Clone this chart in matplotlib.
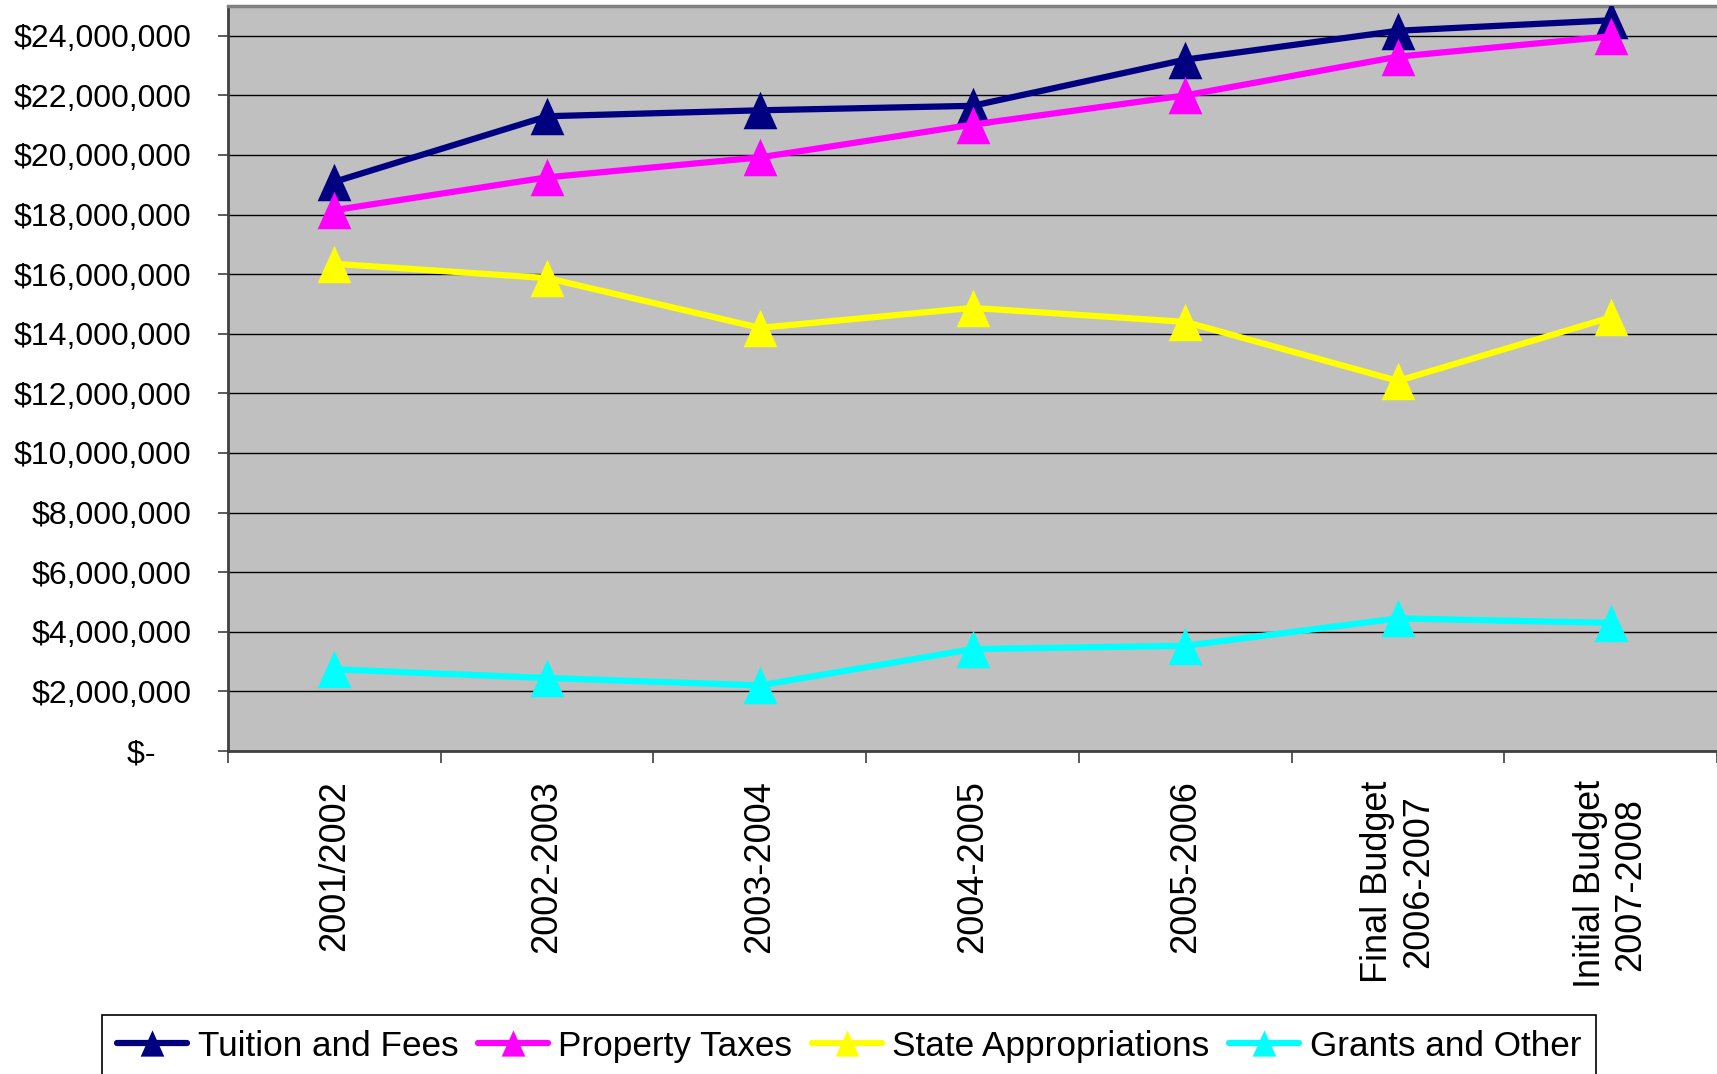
import matplotlib
matplotlib.use("Agg")
import matplotlib.pyplot as plt
import numpy as np
from matplotlib.path import Path
from matplotlib.ticker import FuncFormatter, FixedLocator

plt.rcParams['font.family'] = ['Liberation Sans', 'DejaVu Sans']

categories = ["2001/2002", "2002-2003", "2003-2004", "2004-2005", "2005-2006",
              "Final Budget\n2006-2007", "Initial Budget\n2007-2008"]
tuition = [19.1e6, 21.3e6, 21.5e6, 21.65e6, 23.2e6, 24.17e6, 24.52e6]
property_taxes = [18.15e6, 19.25e6, 19.92e6, 21.02e6, 22.0e6, 23.3e6, 23.98e6]
state_approp = [16.35e6, 15.87e6, 14.2e6, 14.87e6, 14.4e6, 12.42e6, 14.55e6]
grants = [2.74e6, 2.45e6, 2.2e6, 3.42e6, 3.53e6, 4.45e6, 4.3e6]

series = [("Tuition and Fees", tuition, "#000080"),
          ("Property Taxes", property_taxes, "#FF00FF"),
          ("State Appropriations", state_approp, "#FFFF00"),
          ("Grants and Other", grants, "#00FFFF")]

tri = Path([(0, 1), (-0.9, -1), (0.9, -1), (0, 1)],
           [Path.MOVETO, Path.LINETO, Path.LINETO, Path.CLOSEPOLY])

fig = plt.figure(figsize=(17.17, 10.74), dpi=100)
ax = fig.add_axes([228/1717, 1 - 751/1074, 1 - 228/1717, (751 - 6)/1074])
ax.set_facecolor("#C0C0C0")

x = np.arange(len(categories))
handles = []
for name, vals, col in series:
    h, = ax.plot(x, vals, color=col, lw=4.5, marker=tri, markersize=27,
                 markeredgewidth=0, markerfacecolor=col, label=name,
                 solid_capstyle='round', zorder=3)
    handles.append(h)

ax.set_xlim(-0.5, 6.5)
ax.set_ylim(0, 25e6)
ax.set_yticks(np.arange(0, 24e6 + 1, 2e6))
ax.yaxis.set_major_formatter(FuncFormatter(
    lambda v, p: "$-    " if v == 0 else f"${v:,.0f}"))
ax.grid(axis='y', color='black', lw=1.0, zorder=1)
ax.set_axisbelow(True)

ax.set_xticks(x)
ax.set_xticklabels(categories, rotation=90, ha='center', va='top',
                   multialignment='center', fontsize=26)
ax.xaxis.set_minor_locator(FixedLocator(np.arange(-0.5, 7, 1.0)))
ax.tick_params(axis='x', which='major', length=0, pad=21)
ax.tick_params(axis='x', which='minor', length=8.5, width=1.2, color='#404040')
ax.tick_params(axis='y', length=7.5, width=1.2, color='#404040', pad=19,
               labelsize=23)

for s in ['left', 'bottom']:
    ax.spines[s].set_color('#404040')
    ax.spines[s].set_linewidth(2)
ax.spines['top'].set_color('#808080')
ax.spines['top'].set_linewidth(2.5)
ax.spines['right'].set_visible(False)

leg = fig.legend(handles=handles, loc='upper left',
                 bbox_to_anchor=(102/1717, 1 - 1015/1074), ncol=4,
                 fontsize=25.3, frameon=True, fancybox=False, framealpha=1,
                 edgecolor='black', borderaxespad=0, markerscale=0.7,
                 handlelength=2.0, handletextpad=0.3, columnspacing=0.55,
                 borderpad=0.42)
leg.get_frame().set_linewidth(1.2)

fig.savefig("out.png", dpi=100)
